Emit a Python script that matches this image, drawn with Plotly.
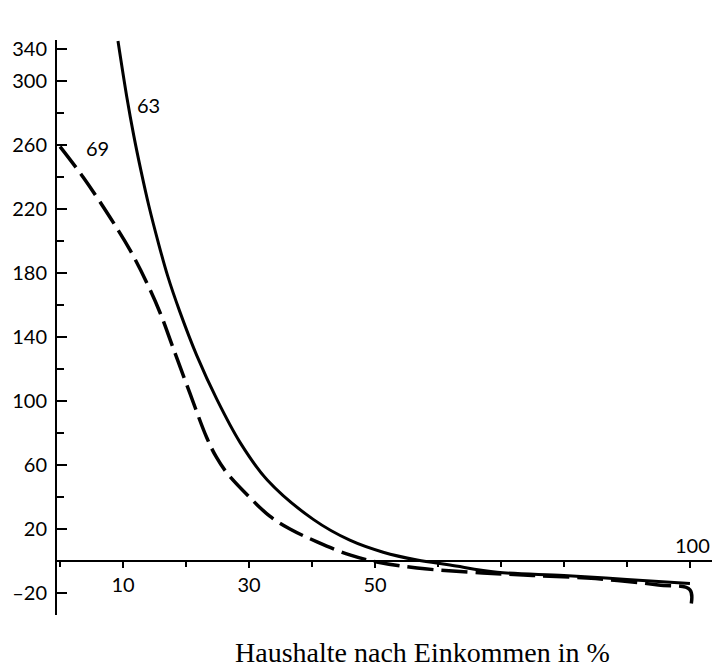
import plotly.graph_objects as go

# Curve "63" (solid)
x63 = [9.2, 10.6, 11.7, 12.9, 14.1, 15.6, 17.1, 19.0, 21.7, 24.9, 28.6, 32.9,
       40.2, 46.0, 51.3, 56.7, 61.9, 69.4, 80, 90, 100]
y63 = [325, 290, 266, 243, 222, 199, 178, 156, 128.5, 101, 74, 50.6,
       26, 13, 5.5, 0.6, -2.5, -7, -9, -11.5, -14]

# Curve "69" (dashed)
x69 = [0, 3.65, 7.9, 11.1, 13.8, 15.9, 17.9, 20.6, 23.3, 24.8, 26.5, 30.2, 33.3, 36.5,
       40.8, 46.0, 50.3, 56.7, 67.1, 75, 85, 95, 100, 100]
y69 = [259, 240, 215, 194.4, 173.7, 155, 133.7, 105, 77, 65, 55, 39.4, 28, 20,
       12, 3.8, -0.6, -4.4, -7.5, -9, -11, -15, -18, -31]

ytick_vals = [-20, 20, 60, 100, 140, 180, 220, 260, 300, 320]
ytick_text = ["\u201320", "20", "60", "100", "140", "180", "220", "260", "300", "340"]
yminor_vals = [0, 40, 80, 120, 160, 200, 240, 280]
xtick_vals = [10, 30, 50, 100]
xtick_text = ["10", "30", "50", ""]
xminor_vals = [0, 20, 40, 60, 70, 80, 90]

tickfont = dict(family="Lato", size=20, color="black")

fig = go.Figure()
fig.add_trace(go.Scatter(x=x63, y=y63, mode="lines",
                         line=dict(color="black", width=3, shape="spline", smoothing=1.0),
                         showlegend=False, hoverinfo="skip", cliponaxis=False))
fig.add_trace(go.Scatter(x=x69, y=y69, mode="lines",
                         line=dict(color="black", width=3.5, dash="26px,8px",
                                   shape="spline", smoothing=1.0),
                         showlegend=False, hoverinfo="skip", cliponaxis=False))

fig.update_layout(
    width=712, height=669,
    margin=dict(l=57, r=0, t=40, b=54, autoexpand=False),
    paper_bgcolor="white", plot_bgcolor="white",
    xaxis=dict(range=[-0.48, 103.5], anchor="free", position=(33.75 / 359.35),
               automargin=False,
               showgrid=False, zeroline=False, showline=True, linecolor="black", linewidth=2,
               tickmode="array", tickvals=xtick_vals, ticktext=xtick_text,
               ticks="outside", ticklen=6, tickwidth=2, tickcolor="black",
               tickfont=tickfont,
               minor=dict(tickmode="array", tickvals=xminor_vals, ticks="outside",
                          ticklen=5, tickwidth=1.5, tickcolor="black")),
    yaxis=dict(range=[-33.75, 325.6], showgrid=False, zeroline=False, automargin=False,
               showline=True, linecolor="black", linewidth=2,
               tickmode="array", tickvals=ytick_vals, ticktext=ytick_text,
               ticks="inside", ticklen=10, tickwidth=2, tickcolor="black",
               ticklabelstandoff=4, tickfont=tickfont,
               minor=dict(tickmode="array", tickvals=yminor_vals, ticks="inside",
                          ticklen=7, tickwidth=2, tickcolor="black")),
    annotations=[
        dict(x=14, y=285, xref="x", yref="y", text="63", showarrow=False,
             font=dict(family="Lato", size=20, color="black")),
        dict(x=5.9, y=258, xref="x", yref="y", text="69", showarrow=False,
             font=dict(family="Lato", size=20, color="black")),
        dict(x=1.0, y=1, xref="paper", yref="y", text="100", showarrow=False,
             xanchor="right", yanchor="bottom",
             font=dict(family="Lato", size=20, color="black")),
        dict(x=(422 - 57) / 655, y=(615 - 652) / 575, xref="paper", yref="paper",
             text="Haushalte nach Einkommen in %", showarrow=False, yanchor="middle",
             font=dict(family="Liberation Serif", size=28, color="black")),
    ],
)

fig.write_html(
    "out.html",
    config={"displayModeBar": False},
    post_script="document.body.style.margin='0px';document.body.style.overflow='hidden';",
)
